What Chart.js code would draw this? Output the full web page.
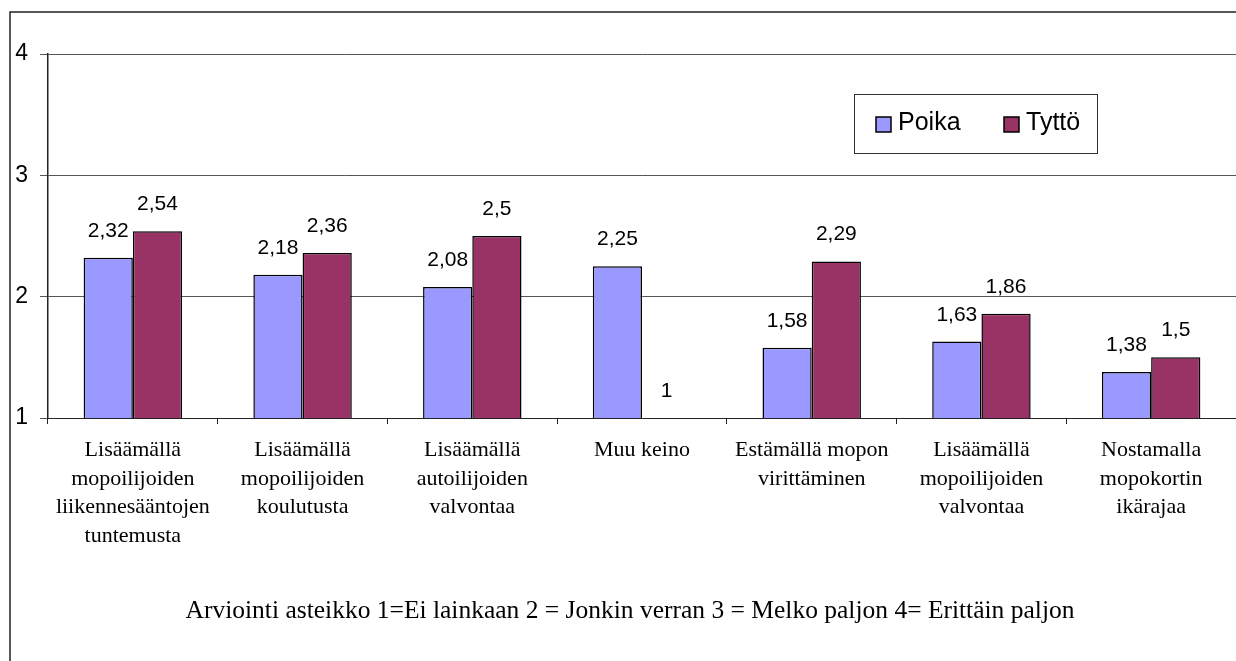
<!DOCTYPE html>
<html>
<head>
<meta charset="utf-8">
<script src="https://cdn.jsdelivr.net/npm/chart.js@4/dist/chart.umd.min.js"></script>
<style>
html,body{margin:0;padding:0;background:#fff;}
#wrap{width:1236px;height:661px;position:relative;}
</style>
</head>
<body>
<div id="wrap"><canvas id="c" width="1236" height="661"></canvas></div>
<script>
const categories = [
  ["Lisäämällä","mopoilijoiden","liikennesääntojen","tuntemusta"],
  ["Lisäämällä","mopoilijoiden","koulutusta"],
  ["Lisäämällä","autoilijoiden","valvontaa"],
  ["Muu keino"],
  ["Estämällä mopon","virittäminen"],
  ["Lisäämällä","mopoilijoiden","valvontaa"],
  ["Nostamalla","mopokortin","ikärajaa"]
];
const poikaValues = [2.32, 2.18, 2.08, 2.25, 1.58, 1.63, 1.38];
const tyttoValues = [2.54, 2.36, 2.5, 1, 2.29, 1.86, 1.5];
const seriesNames = ["Poika", "Tyttö"];
const yTicks = [1, 2, 3, 4];
const captionText = "Arviointi asteikko 1=Ei lainkaan 2 = Jonkin verran 3 = Melko paljon 4= Erittäin paljon";

const fmt = v => String(v).replace('.', ',');

const framePlugin = {
  id: 'frame',
  beforeDraw(chart) {
    const ctx = chart.ctx;
    ctx.save();
    ctx.fillStyle = '#fff';
    ctx.fillRect(0, 0, chart.width, chart.height);
    ctx.strokeStyle = '#222';
    ctx.lineWidth = 1.5;
    ctx.strokeRect(10, 12, 1400, 800);
    ctx.restore();
  }
};

const captionPlugin = {
  id: 'caption',
  afterDraw(chart) {
    const ctx = chart.ctx;
    ctx.save();
    ctx.font = '25.5px "Liberation Serif", "Times New Roman", serif';
    ctx.fillStyle = '#000';
    ctx.textAlign = 'center';
    ctx.textBaseline = 'alphabetic';
    ctx.fillText(captionText, 630, 618);
    ctx.restore();
  }
};

const valueLabels = {
  id: 'valueLabels',
  afterDatasetsDraw(chart) {
    const ctx = chart.ctx;
    ctx.save();
    ctx.font = '21px "Liberation Sans", Arial, sans-serif';
    ctx.fillStyle = '#000';
    ctx.textAlign = 'center';
    ctx.textBaseline = 'alphabetic';
    chart.data.datasets.forEach((ds, di) => {
      const meta = chart.getDatasetMeta(di);
      meta.data.forEach((bar, i) => {
        ctx.fillText(fmt(ds.data[i]), bar.x, bar.y - 21);
      });
    });
    ctx.restore();
  }
};

const customLegend = {
  id: 'customLegend',
  afterDraw(chart) {
    const ctx = chart.ctx;
    ctx.save();
    ctx.strokeStyle = '#333';
    ctx.lineWidth = 1;
    ctx.strokeRect(854.5, 94.5, 243, 59);
    ctx.font = '25px "Liberation Sans", Arial, sans-serif';
    ctx.textBaseline = 'alphabetic';
    ctx.textAlign = 'left';
    const xs = [876, 1004];
    chart.data.datasets.forEach((ds, di) => {
      const x = xs[di];
      ctx.fillStyle = ds.backgroundColor;
      ctx.fillRect(x, 117, 15, 15);
      ctx.strokeStyle = '#000';
      ctx.lineWidth = 1.5;
      ctx.strokeRect(x, 117, 15, 15);
      ctx.fillStyle = '#000';
      ctx.fillText(ds.label, x + 22, 130);
    });
    ctx.restore();
  }
};

new Chart(document.getElementById('c'), {
  type: 'bar',
  data: {
    labels: categories,
    datasets: [
      { label: seriesNames[0], data: poikaValues, backgroundColor: '#9999FF', borderColor: '#000', borderWidth: 1.5, borderSkipped: 'bottom' },
      { label: seriesNames[1], data: tyttoValues, backgroundColor: '#993366', borderColor: '#000', borderWidth: 1.5, borderSkipped: 'bottom' }
    ]
  },
  options: {
    responsive: false,
    animation: false,
    devicePixelRatio: 1,
    layout: { padding: { top: 54, left: 0, right: 0, bottom: 0 } },
    plugins: { legend: { display: false }, tooltip: { enabled: false } },
    datasets: { bar: { categoryPercentage: 0.58, barPercentage: 1.0 } },
    scales: {
      x: {
        offset: true,
        grid: { display: true, drawOnChartArea: false, drawTicks: true, tickLength: 6, color: '#222', offset: true },
        border: { display: true, color: '#222', width: 1 },
        ticks: {
          color: '#000',
          padding: 12,
          maxRotation: 0,
          autoSkip: false,
          font: { family: '"Liberation Serif", "Times New Roman", serif', size: 22, lineHeight: 1.3 }
        },
        afterFit(scale) { scale.height = 243; }
      },
      y: {
        min: 1,
        max: 4,
        beginAtZero: false,
        afterBuildTicks(scale) { scale.ticks = yTicks.map(v => ({ value: v })); },
        grid: { color: '#555', lineWidth: 1, drawTicks: true, tickLength: 8 },
        border: { display: true, color: '#222', width: 1.5 },
        ticks: {
          color: '#000',
          padding: 12,
          font: { family: '"Liberation Sans", Arial, sans-serif', size: 23 }
        },
        afterFit(scale) { scale.width = 48; }
      }
    }
  },
  plugins: [framePlugin, valueLabels, customLegend, captionPlugin]
});
</script>
</body>
</html>
